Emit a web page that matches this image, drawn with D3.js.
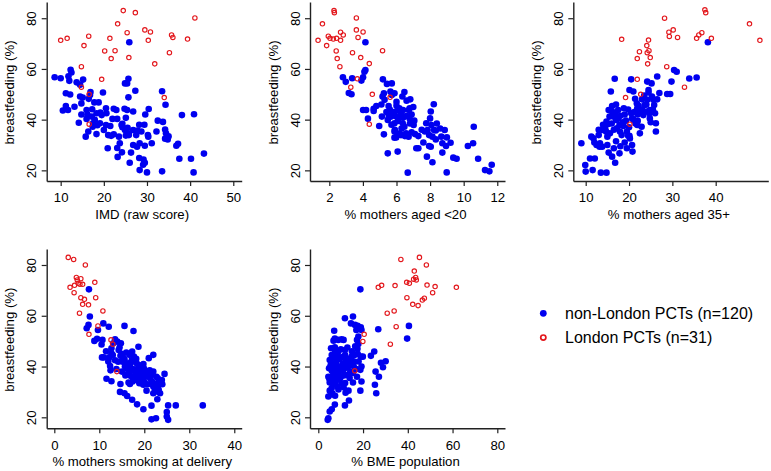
<!DOCTYPE html>
<html><head><meta charset="utf-8">
<script src="https://cdn.jsdelivr.net/npm/d3@7"></script>
<style>
body{margin:0;background:#fff}
svg{display:block}
text{font-family:"Liberation Sans",Arial,Helvetica,sans-serif;fill:#000}
</style>
</head><body><svg id="chart" width="771" height="471"></svg>
<script>
// ---------- labels ----------
const yTitle = "breastfeeding (%)";
const yTickValues = [20, 40, 60, 80];
const xTitles = ["IMD (raw score)", "% mothers aged <20", "% mothers aged 35+", "% mothers smoking at delivery", "% BME population"];
const xTickValues = [[10,20,30,40,50],[2,4,6,8,10,12],[10,20,30,40],[0,10,20,30,40],[0,20,40,60,80]];
const legendLabels = ["non-London PCTs (n=120)", "London PCTs (n=31)"];

// ---------- data: [x, breastfeeding %] ----------
const imdNonLondon = [[25.9,70.5],[8.6,56.7],[10.0,56.3],[12.3,59.7],[12.5,58.6],[11.8,57.1],[12.0,55.3],[13.7,54.7],[14.5,53.8],[15.2,55.8],
[11.2,50.4],[12.2,49.9],[11.2,45.4],[10.5,43.6],[11.7,43.8],[13.2,45.1],[14.5,49.1],[15.1,48.7],[14.8,46.4],[16.9,50.9],
[16.8,49.7],[16.5,48.2],[17.8,46.8],[18.8,46.8],[17.3,44.1],[19.8,50.7],[14.8,42.0],[16.2,42.0],[16.0,40.3],[14.2,38.8],
[15.8,33.3],[16.4,35.3],[18.3,42.5],[19.2,42.8],[17.9,39.9],[19.1,38.6],[17.4,37.2],[18.5,37.8],[18.3,34.3],[20.0,35.9],
[20.5,44.5],[22.3,44.3],[22.0,40.3],[23.1,40.3],[21.5,37.5],[20.5,37.9],[24.8,44.3],[25.4,43.8],[26.8,43.2],[25.1,40.7],
[24.3,38.4],[24.3,37.0],[24.9,35.9],[25.5,36.8],[25.8,34.6],[25.1,33.7],[21.0,33.9],[21.7,33.6],[22.3,34.2],[23.5,33.3],
[20.9,28.7],[23.1,28.8],[24.2,27.1],[23.2,25.3],[26.0,23.0],[26.3,27.0],[26.8,30.0],[27.7,29.3],[28.3,30.7],[29.5,29.7],
[28.2,24.9],[29.2,24.3],[29.1,22.2],[28.3,20.1],[30.0,19.2],[29.5,23.0],[28.2,38.0],[29.4,38.0],[26.8,35.9],[27.8,35.7],
[30.2,33.9],[30.3,33.3],[31.1,30.7],[29.6,42.0],[30.4,44.2],[25.7,56.1],[25.4,54.3],[24.9,54.3],[25.7,48.8],[27.3,51.4],
[32.5,39.6],[33.7,39.1],[33.5,51.2],[34.3,45.9],[34.2,36.1],[34.4,34.6],[34.2,32.5],[35.0,33.4],[34.8,32.2],[36.8,29.7],
[37.2,30.5],[37.5,24.6],[38.1,41.8],[40.9,42.1],[40.2,24.6],[40.8,19.2],[43.2,26.6],[33.5,19.6],[20.6,42.5],[19.5,41.8],
[16.0,43.8],[17.5,38.6],[23.7,30.7],[25.8,33.9],[27.5,33.9],[24.1,37.9],[17.2,41.2],[22.9,43.8],[28.7,35.3],[32.2,35.3]];
const imdLondon = [[10.0,71.3],[11.5,72.1],[15.4,69.2],[16.5,72.9],[14.8,60.9],[14.8,52.8],[16.6,50.0],[16.6,38.2],[19.5,55.9],[20.2,67.1],
[21.4,72.1],[22.6,67.2],[21.7,64.1],[23.2,77.8],[24.5,83.0],[25.4,74.3],[27.3,82.2],[25.8,64.5],[29.5,75.4],[30.8,74.6],
[30.3,71.3],[31.8,62.0],[34.0,48.7],[35.2,66.4],[35.7,73.4],[36.0,72.4],[39.4,71.8],[41.1,80.1]];

const under20NonLondon = [[4.15,70.5],[2.81,56.7],[2.98,54.9],[3.16,50.5],[3.32,50.0],[3.36,56.3],[3.91,55.4],[4.01,56.7],[4.09,58.9],[4.15,59.6],
[4.01,43.8],[4.19,43.8],[4.30,40.4],[4.64,44.3],[4.80,45.4],[4.64,43.4],[4.97,37.5],[5.25,34.2],[5.19,55.9],[5.43,54.1],
[5.72,54.3],[5.25,50.4],[5.17,49.1],[5.29,47.8],[5.53,45.4],[5.64,51.1],[5.72,49.7],[5.88,50.4],[5.13,41.2],[5.48,39.9],
[5.54,41.7],[5.68,41.2],[5.88,42.2],[5.98,41.2],[6.07,43.8],[6.17,44.5],[6.27,42.5],[6.39,43.8],[6.47,50.9],[6.35,49.1],
[6.82,48.0],[6.78,44.5],[6.74,43.8],[5.48,26.7],[6.07,27.4],[5.88,38.6],[5.88,35.3],[6.07,33.9],[6.19,34.6],[5.88,32.9],
[6.27,33.9],[6.47,37.2],[6.37,38.6],[6.57,34.6],[6.72,33.3],[6.78,40.5],[7.06,39.6],[7.02,37.9],[7.10,34.3],[6.67,19.1],
[5.98,33.0],[8.22,46.1],[8.04,43.2],[8.00,40.5],[8.08,37.9],[7.77,38.6],[7.85,35.9],[7.94,33.9],[8.14,33.3],[7.69,35.3],
[8.24,35.9],[8.34,35.7],[8.34,32.2],[8.04,29.3],[7.94,29.6],[7.81,25.4],[8.14,23.2],[7.30,28.7],[7.18,28.7],[8.87,35.9],
[8.67,33.3],[8.73,30.7],[8.73,27.0],[8.95,29.6],[9.22,30.9],[8.99,19.2],[9.38,25.0],[9.58,24.6],[10.25,29.6],[10.56,30.7],
[10.60,37.2],[10.86,24.6],[11.27,20.1],[11.53,19.6],[11.67,22.2],[5.6,44.0],[5.8,43.0],[6.0,45.5],[6.2,41.0],[6.1,39.5],
[5.7,38.0],[6.4,40.8],[6.6,41.5],[6.9,42.0],[6.3,36.5],[6.5,33.5],[6.9,35.0],[7.3,33.5],[7.5,36.0],[7.6,31.0],
[5.4,43.0],[5.1,46.0],[6.0,47.0],[6.6,47.5],[7.0,45.0],[8.4,38.5],[8.6,36.5],[9.0,33.0],[5.9,36.0],[6.8,38.5]];
const under20London = [[1.33,71.3],[1.59,77.8],[1.84,69.2],[1.94,72.9],[2.04,72.1],[2.24,71.8],[2.43,72.1],[2.28,83.0],[2.30,82.2],[2.67,74.5],
[2.83,73.4],[2.67,71.3],[2.41,67.1],[2.47,64.1],[2.63,60.9],[3.28,52.8],[3.38,66.4],[3.61,80.1],[3.61,75.4],[3.71,72.4],
[3.67,56.1],[3.87,64.5],[4.01,74.6],[4.38,62.1],[4.38,38.2],[4.56,50.0],[5.17,67.2],[5.62,48.8]];

const over35NonLondon = [[38.2,70.5],[9.0,30.7],[9.9,22.1],[10.0,19.5],[11.0,24.7],[11.3,33.3],[11.8,32.6],[12.1,24.7],[11.6,20.1],[13.0,33.9],
[13.3,30.7],[13.8,29.3],[13.2,29.3],[13.5,19.1],[14.8,19.1],[13.9,35.9],[14.2,37.2],[14.8,39.2],[15.2,38.3],[14.7,35.3],
[15.0,33.3],[15.6,34.6],[15.3,43.8],[15.5,41.2],[15.8,51.1],[16.7,56.1],[16.1,45.4],[16.1,43.2],[16.4,41.2],[16.8,42.5],
[17.0,39.9],[17.5,43.8],[15.3,27.0],[16.1,25.4],[16.8,23.0],[17.8,26.7],[16.5,28.7],[17.2,36.6],[17.8,37.9],[17.9,35.3],
[18.3,33.9],[18.7,37.5],[18.8,44.5],[19.3,39.6],[19.5,35.3],[19.8,33.6],[20.1,33.6],[20.2,32.6],[20.7,30.0],[20.8,27.4],
[20.7,40.5],[20.5,55.9],[20.1,51.7],[21.0,51.1],[21.4,48.2],[21.8,46.4],[21.9,44.5],[19.5,28.7],[21.9,37.9],[22.5,34.6],
[22.9,37.2],[23.3,41.8],[24.2,55.0],[24.5,51.7],[24.5,50.7],[24.8,43.8],[24.2,47.8],[23.6,45.8],[24.1,43.2],[24.7,42.5],
[25.2,54.3],[25.3,49.1],[25.6,47.8],[25.8,45.8],[26.0,42.5],[26.2,38.6],[26.2,35.3],[26.5,57.0],[28.8,50.1],[29.5,50.1],
[29.8,55.0],[30.4,59.6],[31.0,58.9],[33.9,56.2],[35.6,56.6],[14.0,38.0],[14.5,36.5],[16.0,38.5],[16.5,36.0],[17.5,40.5],
[18.0,41.5],[18.5,39.0],[19.0,42.0],[19.8,44.0],[20.5,42.5],[21.0,40.0],[21.2,43.0],[21.5,38.5],[22.0,42.0],[22.2,45.5],
[22.5,43.0],[23.0,48.0],[23.5,49.5],[24.0,46.0],[24.8,40.5],[25.5,44.0],[26.5,48.0],[27.0,50.5],[13.0,36.0],[12.5,30.0],
[12.0,31.0],[15.0,30.0],[17.0,31.5],[18.0,29.5],[19.0,31.0],[20.0,37.0],[22.0,39.5],[23.0,44.0],[25.0,39.0],[17.0,46.0]];
const over35London = [[28.2,80.0],[29.2,74.5],[29.3,72.8],[30.2,75.4],[31.2,72.4],[18.3,71.7],[22.4,66.8],[21.9,64.1],[24.1,69.2],[24.5,71.4],
[24.6,67.2],[24.2,66.4],[24.9,64.5],[24.3,62.0],[21.9,55.9],[22.7,50.0],[19.2,48.7],[20.2,38.2],[28.7,60.9],[32.8,52.8],
[37.5,83.3],[37.7,82.2],[35.6,72.1],[36.1,73.4],[36.8,74.3],[39.0,72.1],[47.8,77.8],[50.2,71.3]];

const smokingNonLondon = [[7.7,70.4],[7.9,59.7],[7.6,56.4],[7.2,55.1],[9.7,54.4],[10.9,57.0],[12.1,55.7],[15.6,56.0],[17.6,54.0],[8.9,50.1],
[9.5,50.9],[10.7,50.5],[10.5,48.7],[11.0,43.6],[10.6,43.6],[12.2,43.6],[12.4,40.2],[12.7,45.2],[12.7,47.2],[13.5,50.7],
[14.0,49.8],[14.8,49.2],[13.1,49.2],[14.3,46.5],[14.7,44.2],[14.2,41.9],[15.2,41.9],[15.6,42.9],[15.0,38.0],[16.1,39.3],
[16.4,41.3],[16.7,44.6],[17.3,45.9],[17.7,43.9],[17.9,41.9],[18.7,47.8],[18.3,41.3],[18.6,39.3],[15.7,40.0],[16.8,38.0],
[17.0,36.3],[18.0,38.0],[18.3,34.7],[19.4,34.7],[19.9,39.3],[20.2,38.0],[20.1,36.0],[19.8,32.8],[21.0,43.3],[22.0,44.6],
[11.6,35.2],[12.7,34.2],[14.7,33.1],[14.6,30.0],[15.6,29.5],[16.2,28.4],[17.3,26.9],[18.4,25.1],[19.8,23.2],[21.6,24.6],
[22.9,27.1],[21.6,19.2],[22.6,19.6],[25.0,22.1],[25.0,20.3],[25.3,19.0],[25.3,24.7],[27.0,24.7],[33.0,24.7],[21.3,35.4],
[21.7,34.1],[22.0,32.1],[22.7,33.1],[23.0,35.4],[22.4,30.1],[22.0,29.5],[23.2,30.8],[23.6,34.5],[23.9,34.7],[24.5,37.1],
[22.7,36.0],[16.5,33.7],[17.4,34.1],[18.9,33.4],[19.4,33.4],[16.8,33.1],[11.5,46.0],[12.0,42.0],[12.5,38.5],[13.0,44.5],
[13.5,42.5],[13.8,39.0],[14.5,47.5],[15.0,45.0],[15.3,43.5],[15.8,36.5],[16.0,45.5],[16.2,37.0],[16.8,40.5],[17.2,42.5],
[17.5,39.0],[17.8,36.0],[18.2,43.0],[18.5,37.5],[18.8,35.5],[19.0,40.5],[19.2,38.5],[19.5,36.5],[19.8,41.0],[20.0,34.0],
[20.5,37.0],[20.8,33.0],[21.2,38.5],[21.5,36.5],[22.0,38.0],[22.3,31.5],[23.0,32.0],[23.5,29.5],[24.0,33.0],[20.5,30.5]];
const smokingLondon = [[3.1,83.0],[4.3,82.2],[6.9,80.0],[4.9,75.1],[5.1,74.1],[5.9,74.6],[5.3,72.8],[5.7,72.4],[6.3,72.4],[4.5,72.0],
[3.5,71.2],[4.4,69.1],[9.0,73.2],[9.2,67.1],[5.9,67.1],[6.7,66.5],[6.3,64.5],[7.6,64.3],[5.6,61.0],[10.8,61.9],
[9.7,56.0],[7.7,52.7],[12.6,50.5],[13.0,48.8],[13.9,38.0]];

const bmeNonLondon = [[18.8,70.4],[11.9,59.0],[15.5,59.7],[14.6,57.0],[16.4,56.4],[17.6,56.0],[19.0,55.5],[19.3,54.4],[17.0,54.4],[17.9,51.8],
[17.3,50.5],[17.9,48.9],[7.1,54.1],[7.4,51.0],[6.8,50.2],[8.9,50.5],[10.4,50.7],[11.3,50.5],[5.7,47.2],[7.4,47.6],
[10.1,46.8],[11.9,46.5],[26.8,54.7],[40.5,56.0],[39.7,51.0],[25.0,45.9],[23.5,44.2],[30.1,42.1],[28.0,41.5],[28.9,39.7],
[25.6,38.0],[27.1,36.0],[25.3,32.8],[25.9,29.5],[6.3,43.9],[5.1,42.6],[6.5,41.3],[7.7,43.3],[8.6,44.6],[9.5,42.9],
[11.3,43.9],[12.2,42.6],[13.1,41.3],[13.7,40.2],[14.9,43.9],[16.4,44.6],[17.6,45.0],[19.0,43.9],[19.9,43.9],[4.8,39.3],
[6.0,38.4],[5.7,36.0],[6.8,34.7],[7.7,36.0],[8.9,37.3],[9.8,35.5],[10.4,33.4],[11.3,31.8],[12.2,29.7],[11.9,24.7],
[13.7,26.6],[15.5,33.7],[17.3,36.0],[18.8,38.7],[19.3,40.0],[19.3,34.1],[18.8,30.5],[4.5,36.0],[5.1,33.7],[6.5,33.4],
[7.4,33.1],[8.6,32.1],[5.1,30.5],[5.7,29.0],[4.5,28.2],[6.3,29.5],[7.4,25.0],[6.0,23.2],[5.1,22.3],[4.5,19.6],
[4.2,19.0],[12.8,36.7],[14.3,38.0],[15.8,40.2],[5.5,40.5],[6.0,44.5],[6.5,38.0],[7.0,40.0],[7.5,45.5],[8.0,41.5],
[8.5,39.0],[9.0,46.0],[9.5,40.0],[10.0,43.5],[10.5,38.5],[11.0,41.0],[11.5,36.5],[12.0,44.5],[12.5,39.5],[13.0,47.5],
[13.5,43.0],[14.0,35.5],[14.5,41.5],[15.0,46.0],[15.5,37.5],[16.0,42.0],[16.5,48.0],[17.0,39.0],[17.5,47.0],[18.0,42.0],
[5.0,35.0],[6.0,31.5],[7.0,36.5],[8.0,34.5],[9.0,31.0],[10.0,36.0],[11.0,38.5],[12.0,33.5],[13.5,30.5],[7.5,28.5]];
const bmeLondon = [[36.9,82.2],[45.2,83.0],[48.3,80.0],[42.9,77.6],[43.5,75.1],[42.6,74.4],[43.8,74.1],[39.5,73.2],[40.7,72.8],[48.6,72.1],
[52.2,71.5],[61.7,71.2],[26.8,71.2],[28.3,72.0],[34.3,71.9],[39.6,67.1],[51.1,69.1],[46.5,66.2],[47.4,66.9],[42.2,64.5],
[44.6,64.0],[30.8,61.0],[33.9,61.9],[34.8,55.7],[32.2,48.8],[20.5,52.7],[19.9,49.9],[16.3,38.3]];

const nonLondonSets = [imdNonLondon, under20NonLondon, over35NonLondon, smokingNonLondon, bmeNonLondon];
const londonSets = [imdLondon, under20London, over35London, smokingLondon, bmeLondon];

// ---------- layout ----------
const BLUE = "#0000f0", RED = "#e3171c", AXIS = "#222";
const FONT = "Liberation Sans, Arial, sans-serif";
const panels = [
  {left:46.7, right:241.7, top:2,   bottom:181,   xd:[6.76,51.95],  yd:[15.8,86.4]},
  {left:310,  right:505,   top:2,   bottom:181,   xd:[0.85,12.46],  yd:[15.8,86.4]},
  {left:573.3,right:768.3, top:2,   bottom:181,   xd:[7.14,52.14],  yd:[15.8,86.4]},
  {left:46.7, right:241.7, top:249, bottom:428.3, xd:[-1.69,41.65], yd:[15.67,86.3]},
  {left:310,  right:505,   top:249, bottom:428.3, xd:[-3.71,83.44], yd:[15.67,86.3]}
];

const svg = d3.select("#chart");

panels.forEach((p, i) => {
  const x = d3.scaleLinear().domain(p.xd).range([p.left, p.right]);
  const y = d3.scaleLinear().domain(p.yd).range([p.bottom, p.top]);
  const g = svg.append("g");

  // x axis
  const xa = g.append("g").attr("transform", `translate(0,${p.bottom})`)
    .call(d3.axisBottom(x).tickValues(xTickValues[i]).tickSize(5).tickSizeOuter(0).tickPadding(7).tickFormat(d3.format("d")));
  xa.select(".domain").attr("stroke", AXIS).attr("stroke-width", 1.4);
  xa.selectAll(".tick line").attr("stroke", AXIS).attr("stroke-width", 1.2);
  xa.selectAll(".tick text").attr("font-size", 13.2).attr("font-family", FONT).attr("fill", "#000");

  // y axis
  const ya = g.append("g").attr("transform", `translate(${p.left},0)`)
    .call(d3.axisLeft(y).tickValues(yTickValues).tickSize(5).tickSizeOuter(0).tickFormat(d3.format("d")));
  ya.select(".domain").attr("stroke", AXIS).attr("stroke-width", 1.4);
  ya.selectAll(".tick line").attr("stroke", AXIS).attr("stroke-width", 1.2);
  ya.selectAll(".tick text")
    .attr("x", null).attr("dy", null)
    .attr("transform", "translate(-10.3,0) rotate(-90)")
    .attr("text-anchor", "middle")
    .attr("font-size", 13.2).attr("font-family", FONT).attr("fill", "#000");

  // titles
  g.append("text")
    .attr("x", (p.left + p.right) / 2 - 2)
    .attr("y", p.bottom + 37.5)
    .attr("text-anchor", "middle")
    .attr("font-size", 13.2)
    .text(xTitles[i]);
  g.append("text")
    .attr("transform", `translate(${p.left - 32.5},${(p.top + p.bottom) / 2 + 1}) rotate(-90)`)
    .attr("text-anchor", "middle")
    .attr("font-size", 13.2)
    .text(yTitle);

  // points
  g.append("g").selectAll("circle").data(nonLondonSets[i]).join("circle")
    .attr("cx", d => x(d[0])).attr("cy", d => y(d[1])).attr("r", 3.3)
    .attr("fill", BLUE);
  g.append("g").selectAll("circle").data(londonSets[i]).join("circle")
    .attr("cx", d => x(d[0])).attr("cy", d => y(d[1])).attr("r", 2.2)
    .attr("fill", "none").attr("stroke", RED).attr("stroke-width", 1.15);
});

// legend
const lg = svg.append("g");
const legendRows = [{y:313.3, type:"fill"}, {y:337.6, type:"open"}];
legendRows.forEach((r, k) => {
  const c = lg.append("circle").attr("cx", 543.3).attr("cy", r.y);
  if (r.type === "fill") c.attr("r", 3.4).attr("fill", BLUE);
  else c.attr("r", 2.6).attr("fill", "none").attr("stroke", RED).attr("stroke-width", 1.7);
  lg.append("text").attr("x", 565).attr("y", r.y + 5.8).attr("font-size", 16).text(legendLabels[k]);
});
</script>
</body></html>
